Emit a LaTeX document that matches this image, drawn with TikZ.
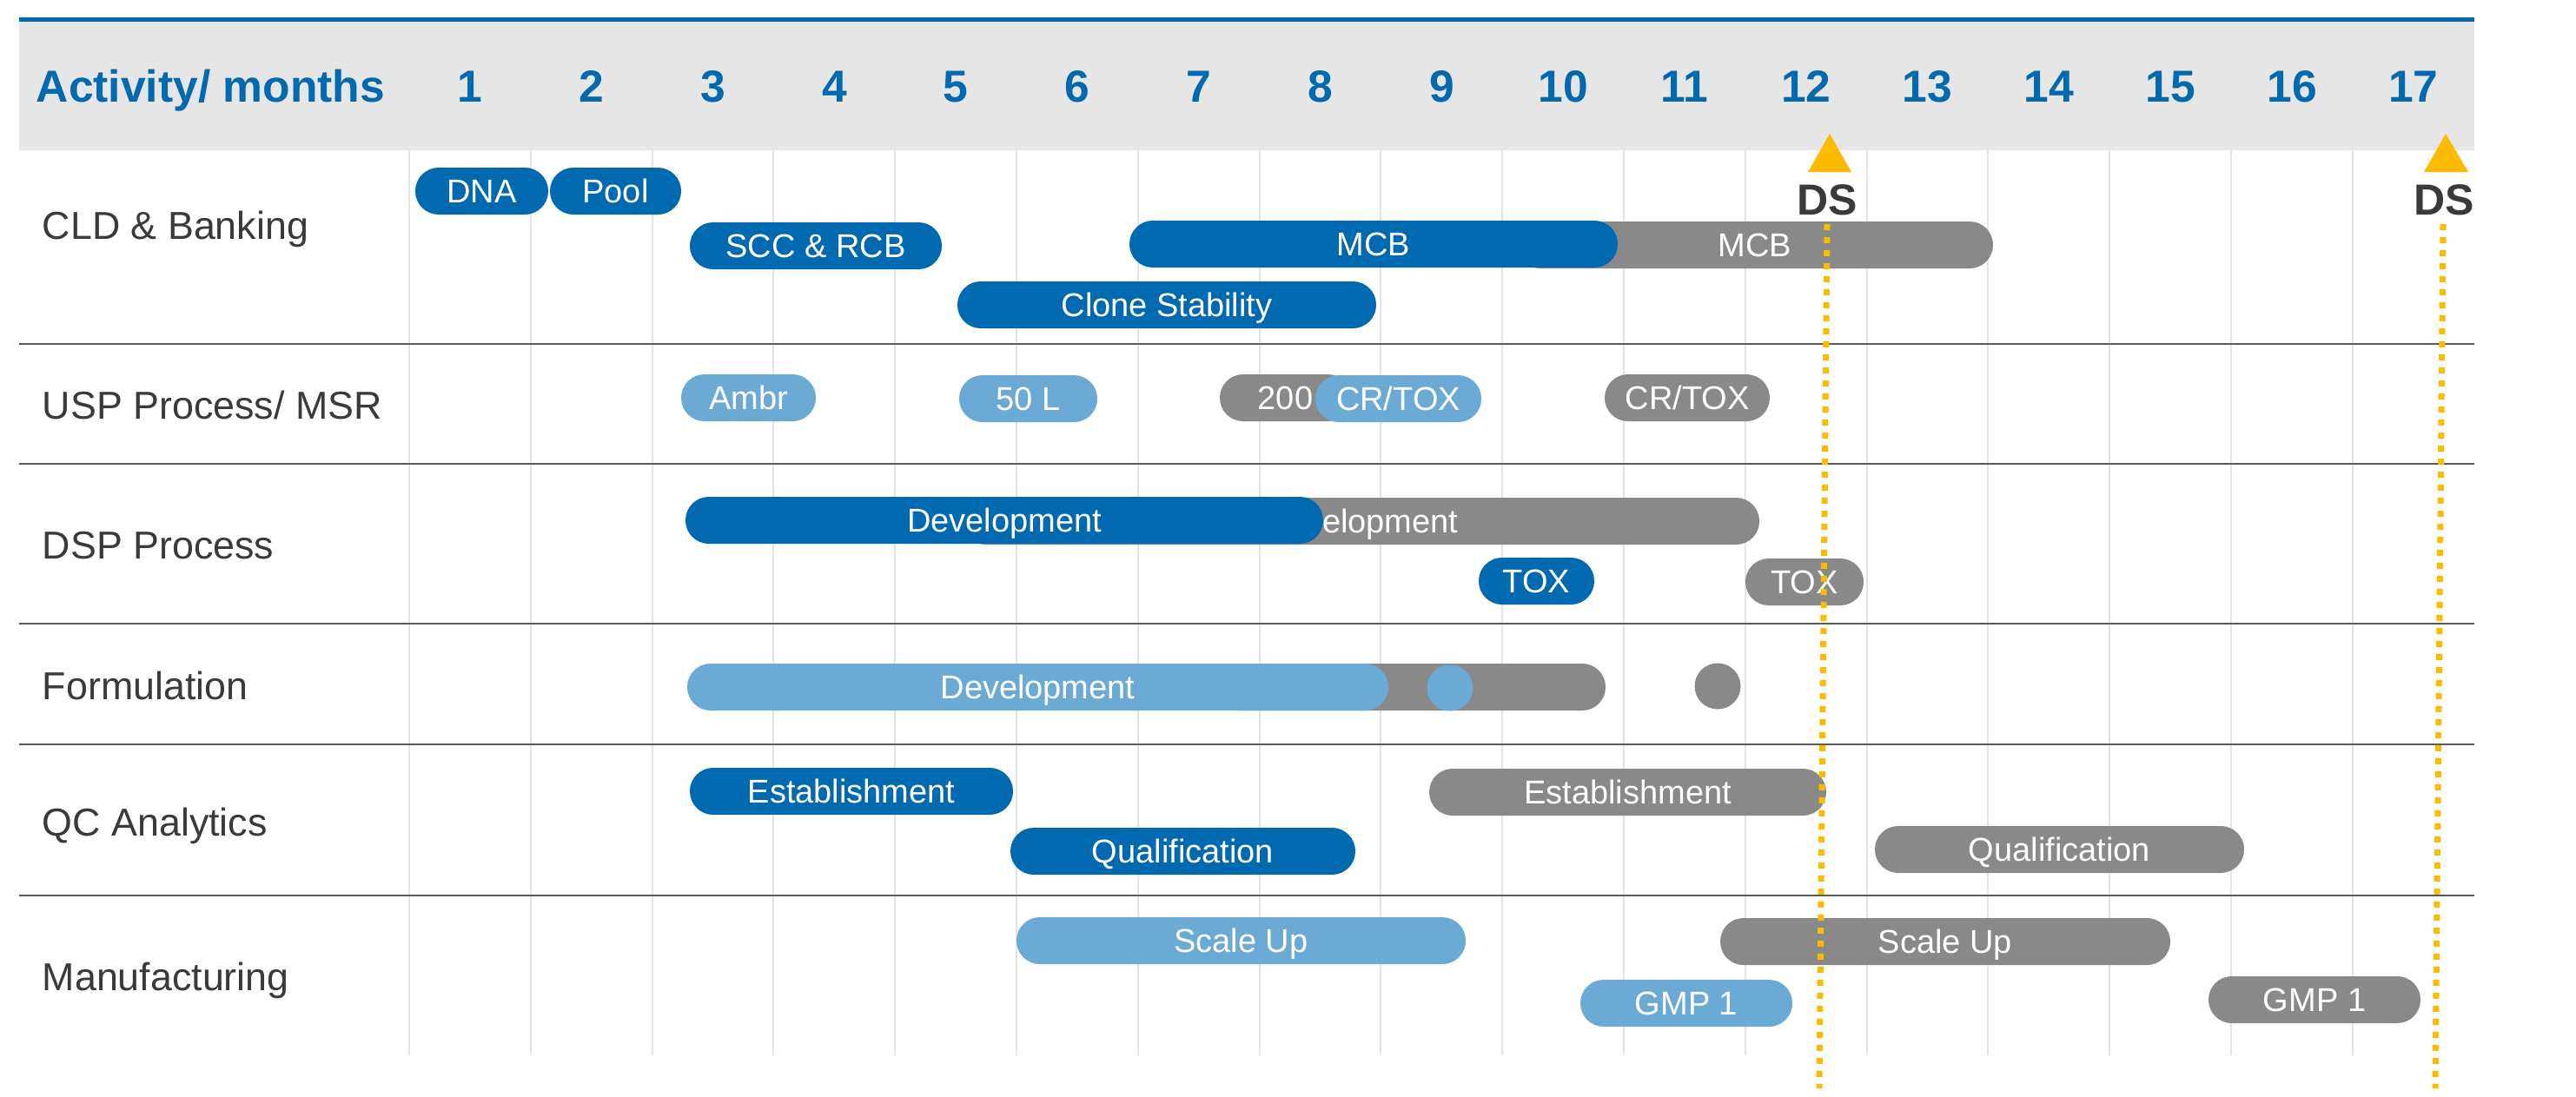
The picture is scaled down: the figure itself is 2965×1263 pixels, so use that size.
\documentclass[tikz,border=0pt]{standalone}
\usepackage{fontspec}
\setmainfont{Liberation Sans}
\definecolor{hblue}{HTML}{0069B0}
\definecolor{lblue}{HTML}{6CAAD6}
\definecolor{bgray}{HTML}{898989}
\definecolor{headgray}{HTML}{E6E6E6}
\definecolor{gridgray}{HTML}{E4E4E4}
\definecolor{sepgray}{HTML}{5A5A5A}
\definecolor{labgray}{HTML}{3A3A3A}
\definecolor{dsyellow}{HTML}{FABB00}
\newcommand{\pill}[6]{\node[pill, fill=#5, minimum width={(#3-#2)*0.25pt}] (#1) at ({(#2+#3)/2},#4) {#6};}
\begin{document}
\begin{tikzpicture}[x=0.25pt,y=-0.25pt,
  pill/.style={rectangle, rounded corners=6.7pt, minimum height=13.5pt, inner sep=0pt,
    text=white, font=\fontsize{9.5}{11}\selectfont, text height=6.8pt, text depth=0pt},
  dot/.style={circle, minimum size=13.25pt, inner sep=0pt},
  rowlabel/.style={anchor=base west, inner sep=0pt, text=labgray, font=\fontsize{11.2}{13}\selectfont},
  headtext/.style={anchor=base, inner sep=0pt, text=hblue, font=\fontsize{12.9}{15}\selectfont\bfseries},
  dstext/.style={inner sep=0pt, text=labgray, font=\fontsize{12.5}{14}\selectfont\bfseries, text height=9pt, text depth=0pt},
  gridline/.style={draw=gridgray, line width=0.5pt},
  sepline/.style={draw=sepgray, line width=0.6pt},
  dsline/.style={draw=dsyellow, line width=1.75pt, dash pattern=on 1.75pt off 2pt}]
\useasboundingbox (0,0) rectangle (2965,1263);
% header
\fill[headgray] (22,25) rectangle (2848,173);
\fill[hblue] (22,20) rectangle (2848,25);
\node[headtext, anchor=base west] (acth) at (41,117) {Activity/ months};
\foreach \i in {1,...,17} {
  \node[headtext] (m\i) at ({541+139.8*(\i-1)},117) {\i};
}
% grid
\foreach \k in {0,...,16} {
  \draw[gridline] ({471+139.8*\k},173) -- ({471+139.8*\k},1215);
}
\foreach \yy in {396,534,718,857,1031} {
  \draw[sepline] (22,\yy) -- (2848,\yy);
}
% row labels
\node[rowlabel] (r1) at (48,275) {CLD \& Banking};
\node[rowlabel] (r2) at (48,482) {USP Process/ MSR};
\node[rowlabel] (r3) at (48,643) {DSP Process};
\node[rowlabel] (r4) at (48,805) {Formulation};
\node[rowlabel] (r5) at (48,962) {QC Analytics};
\node[rowlabel] (r6) at (48,1140) {Manufacturing};
% CLD & Banking
\pill{mcbg}{1746}{2294}{282}{bgray}{MCB}
\pill{dna}{478}{631}{220}{hblue}{DNA}
\pill{pool}{633}{784}{220}{hblue}{Pool}
\pill{scc}{794}{1084}{283}{hblue}{SCC \& RCB}
\pill{mcbb}{1300}{1862}{281}{hblue}{MCB}
\pill{clone}{1102}{1584}{351}{hblue}{Clone Stability}
% USP
\pill{ambr}{784}{939}{458}{lblue}{Ambr}
\pill{fifty}{1104}{1263}{459}{lblue}{50 L}
\pill{twoh}{1404}{1555}{458}{bgray}{200}
\pill{crtoxb}{1514}{1705}{459}{lblue}{CR/TOX}
\pill{crtoxg}{1847}{2037}{458}{bgray}{CR/TOX}
% DSP
\pill{devg}{1108}{2025}{600}{bgray}{Development}
\pill{devb}{789}{1523}{599}{hblue}{Development}
\pill{toxb}{1702}{1835}{669}{hblue}{TOX}
\pill{toxg}{2009}{2145}{670}{bgray}{TOX}
% Formulation
\pill{formg}{1400}{1848}{791}{bgray}{}
\pill{formb}{791}{1598}{791}{lblue}{Development}
\node[dot, fill=lblue] (circb) at (1669,792) {};
\node[dot, fill=bgray] (circg) at (1977,790) {};
% QC
\pill{estb}{794}{1166}{911}{hblue}{Establishment}
\pill{estg}{1645}{2102}{912}{bgray}{Establishment}
\pill{qualb}{1163}{1560}{980}{hblue}{Qualification}
\pill{qualg}{2158}{2583}{978}{bgray}{Qualification}
% Manufacturing
\pill{scaleb}{1170}{1687}{1083}{lblue}{Scale Up}
\pill{scaleg}{1980}{2498}{1084}{bgray}{Scale Up}
\pill{gmpb}{1819}{2063}{1155}{lblue}{GMP 1}
\pill{gmpg}{2542}{2786}{1151}{bgray}{GMP 1}
% DS markers
\fill[dsyellow] (2081,198) -- (2106,154) -- (2131,198) -- cycle;
\fill[dsyellow] (2790,198) -- (2815,154) -- (2841,198) -- cycle;
\node[dstext] (ds1) at (2103,229) {DS};
\node[dstext] (ds2) at (2813,229) {DS};
\coordinate (ds1top) at (2103,258);
\coordinate (ds1bot) at (2094,1253);
\coordinate (ds2top) at (2812,258);
\coordinate (ds2bot) at (2803,1253);
\draw[dsline] (ds1top) -- (ds1bot);
\draw[dsline] (ds2top) -- (ds2bot);
\end{tikzpicture}
\end{document}
